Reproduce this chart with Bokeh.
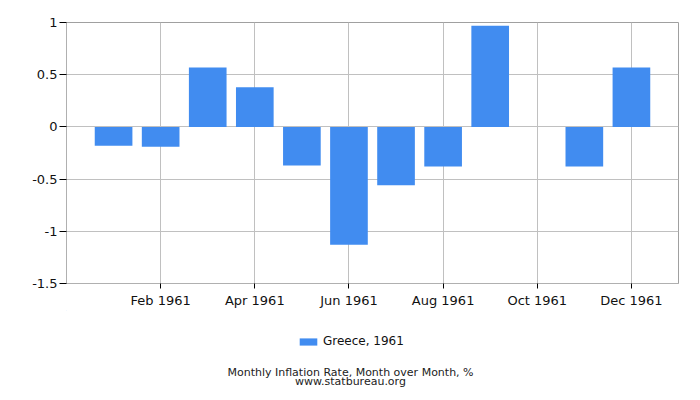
from bokeh.plotting import figure
from bokeh.models import Legend, LegendItem, Label, FixedTicker, Range1d
from bokeh.layouts import column
from bokeh.embed import file_html
from bokeh.resources import INLINE

months = list(range(1, 13))
values = [-0.18, -0.19, 0.57, 0.38, -0.37, -1.13, -0.56, -0.38, 0.97, 0.0, -0.38, 0.57]
x_tick_pos = [2, 4, 6, 8, 10, 12]
x_tick_labels = ["Feb 1961", "Apr 1961", "Jun 1961", "Aug 1961", "Oct 1961", "Dec 1961"]
y_ticks = [-1.5, -1.0, -0.5, 0.0, 0.5, 1.0]
y_tick_labels = ["-1.5", "-1", "-0.5", "0", "0.5", "1"]
series_name = "Greece, 1961"
footer1 = "Monthly Inflation Rate, Month over Month, %"
footer2 = "www.statbureau.org"

FONT = "DejaVu Sans"
BAR = "#418CF0"

p = figure(width=692, height=310, output_backend="svg", toolbar_location=None,
           x_range=Range1d(0, 13), y_range=Range1d(-1.5, 1.0),
           min_border_left=66, min_border_right=14, min_border_top=22, min_border_bottom=27)
p.background_fill_color = "white"
p.border_fill_color = "white"
p.outline_line_color = "#a0a0a0"

r = p.vbar(x=months, top=values, bottom=0, width=0.8, fill_color=BAR, line_color=None)

for ax in (p.xaxis[0], p.yaxis[0]):
    ax.axis_line_color = "#b0b0b0"
    ax.major_tick_line_color = "black"
    ax.minor_tick_line_color = None
    ax.major_tick_in = 0
    ax.major_label_text_font = FONT
    ax.major_label_text_font_size = "13px"
    ax.major_label_text_color = "#111111"

p.xaxis.ticker = FixedTicker(ticks=x_tick_pos)
p.xaxis.major_label_overrides = dict(zip(x_tick_pos, x_tick_labels))
p.xaxis.major_tick_out = 5
p.xaxis.major_label_standoff = 4
p.yaxis.ticker = FixedTicker(ticks=y_ticks)
p.yaxis.major_label_overrides = dict(zip(y_ticks, y_tick_labels))
p.yaxis.major_tick_out = 7
p.yaxis.major_label_standoff = 2

p.xgrid.ticker = FixedTicker(ticks=x_tick_pos)
p.ygrid.ticker = FixedTicker(ticks=y_ticks)
p.grid.grid_line_color = "#c0c0c0"
p.grid.grid_line_width = 1

# lower strip: legend and footer texts (page-pixel-like coordinates, y downward)
p2 = figure(width=692, height=82, output_backend="svg", toolbar_location=None,
            x_range=Range1d(66, 678), y_range=Range1d(82, 0),
            x_axis_location=None, y_axis_location=None, min_border=0)
p2.outline_line_color = None
p2.grid.visible = False
p2.background_fill_color = "white"
p2.border_fill_color = "white"

# legend swatch source (kept far outside the visible range)
r2 = p2.vbar(x=[-5000], top=[-5001], bottom=-5000, width=1, fill_color=BAR, line_color=None)
legend = Legend(items=[LegendItem(label=series_name, renderers=[r2])],
                location=(231, 44), orientation="horizontal",
                border_line_color=None, background_fill_alpha=0,
                padding=0, margin=0, glyph_width=22, glyph_height=9,
                label_height=14, label_text_font=FONT, label_text_font_size="12px",
                label_standoff=4, label_text_color="#111111",
                label_text_baseline="middle")
p2.add_layout(legend, "center")

p2.add_layout(Label(x=350, y=61.7, text=footer1,
                    text_font=FONT, text_font_size="11px", text_align="center",
                    text_baseline="middle", text_color="#222222"))
p2.add_layout(Label(x=350, y=71, text=footer2,
                    text_font=FONT, text_font_size="11px", text_align="center",
                    text_baseline="middle", text_color="#222222"))

layout = column(p, p2, spacing=0)
open("out.html", "w").write(file_html(layout, INLINE))
